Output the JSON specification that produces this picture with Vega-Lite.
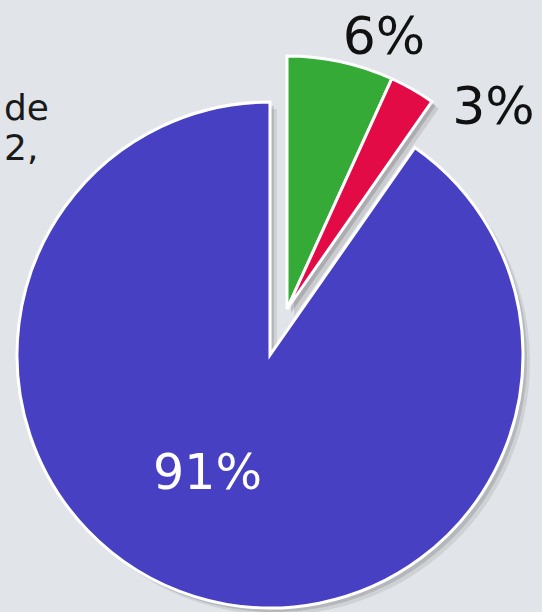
{
  "$schema": "https://vega.github.io/schema/vega-lite/v6.json",
  "width": 540,
  "height": 512,
  "autosize": {"type": "none"},
  "padding": {"left": 0, "top": 99, "right": 2, "bottom": 1},
  "background": "#e1e4e8",
  "config": {"view": {"stroke": null}},
  "title": {
    "text": ["de", "2,"],
    "anchor": "start",
    "align": "left",
    "frame": "group",
    "font": "DejaVu Sans",
    "fontSize": 36,
    "fontWeight": "normal",
    "lineHeight": 40,
    "color": "#1a1a1a",
    "dx": 4,
    "dy": 160
  },
  "data": {
    "values": [
      {"k": 1, "cat": "B", "v": 6.8, "label": "6%"},
      {"k": 2, "cat": "C", "v": 2.9, "label": "3%"},
      {"k": 3, "cat": "A", "v": 90.3, "label": "91%"}
    ]
  },
  "encoding": {
    "theta": {"field": "v", "type": "quantitative", "stack": true},
    "order": {"field": "k", "type": "quantitative"}
  },
  "layer": [
    {
      "mark": {"type": "arc", "radius": 253, "fill": "#000", "xOffset": 7, "yOffset": 7},
      "encoding": {"opacity": {"condition": {"test": "datum.k == 3", "value": 0.08}, "value": 0}}
    },
    {
      "mark": {"type": "arc", "radius": 253, "fill": "#000", "xOffset": 4, "yOffset": 4},
      "encoding": {"opacity": {"condition": {"test": "datum.k == 3", "value": 0.12}, "value": 0}}
    },
    {
      "mark": {"type": "arc", "radius": 253, "stroke": "#ffffff", "strokeWidth": 3},
      "encoding": {
        "color": {"field": "cat", "type": "nominal", "scale": {"domain": ["A", "B", "C"], "range": ["#4840c2", "#35aa36", "#e30b46"]}, "legend": null},
        "opacity": {"condition": {"test": "datum.k == 3", "value": 1}, "value": 0}
      }
    },
    {
      "mark": {"type": "arc", "radius": 253, "fill": "#000", "xOffset": 24, "yOffset": -39},
      "encoding": {"opacity": {"condition": {"test": "datum.k != 3", "value": 0.1}, "value": 0}}
    },
    {
      "mark": {"type": "arc", "radius": 253, "fill": "#000", "xOffset": 21, "yOffset": -42},
      "encoding": {"opacity": {"condition": {"test": "datum.k != 3", "value": 0.15}, "value": 0}}
    },
    {
      "mark": {"type": "arc", "radius": 253, "stroke": "#ffffff", "strokeWidth": 3, "xOffset": 17, "yOffset": -46},
      "encoding": {
        "color": {"field": "cat", "type": "nominal", "legend": null},
        "opacity": {"condition": {"test": "datum.k != 3", "value": 1}, "value": 0}
      }
    },
    {
      "mark": {"type": "text", "radius": 330, "dx": 44, "dy": 5, "font": "DejaVu Sans", "fontSize": 52, "color": "#111111", "align": "center", "baseline": "middle"},
      "encoding": {"text": {"condition": {"test": "datum.k == 1", "field": "label"}, "value": ""}}
    },
    {
      "mark": {"type": "text", "radius": 330, "dx": 60, "dy": 40, "font": "DejaVu Sans", "fontSize": 52, "color": "#111111", "align": "center", "baseline": "middle"},
      "encoding": {"text": {"condition": {"test": "datum.k == 2", "field": "label"}, "value": ""}}
    },
    {
      "mark": {"type": "text", "radius": 125, "dx": -25, "dy": 0, "font": "DejaVu Sans", "fontSize": 49, "color": "#ffffff", "align": "center", "baseline": "middle"},
      "encoding": {"text": {"condition": {"test": "datum.k == 3", "field": "label"}, "value": ""}}
    }
  ]
}
